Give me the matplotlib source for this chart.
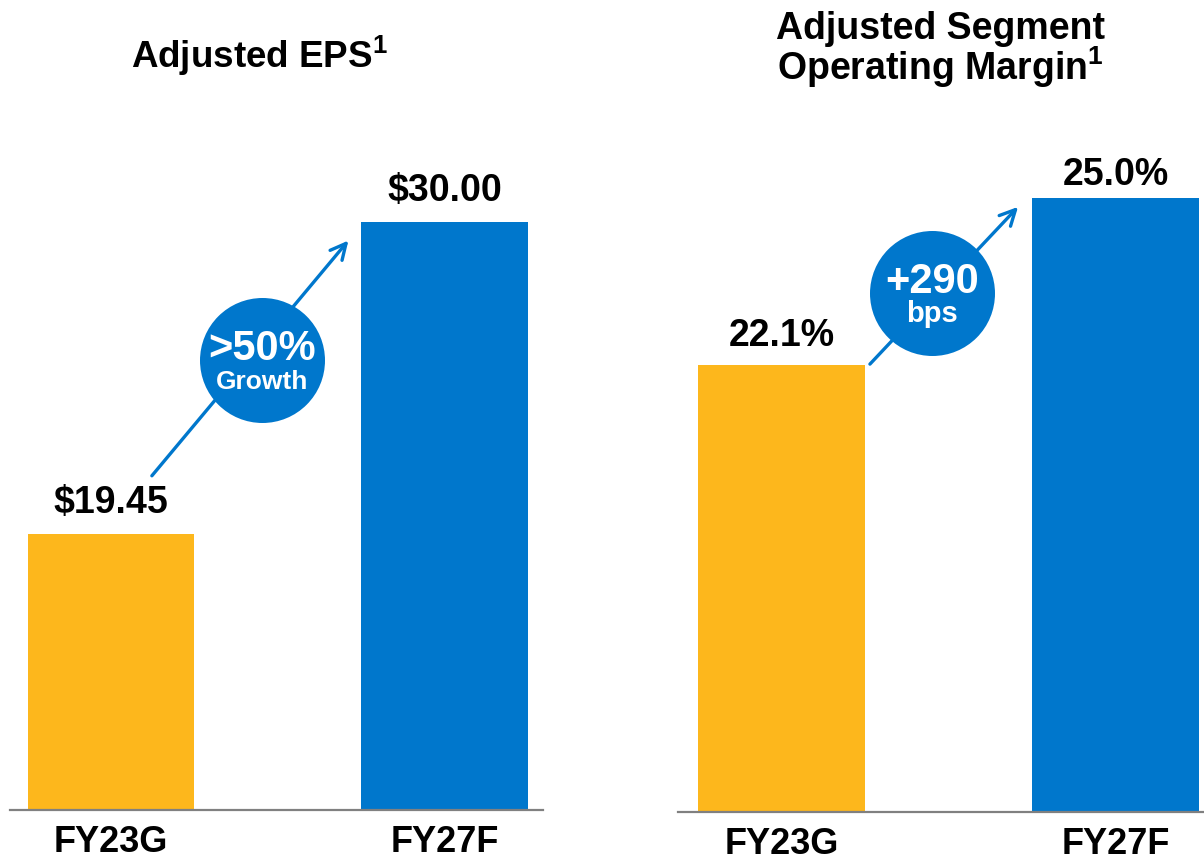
import matplotlib
matplotlib.use("Agg")
import matplotlib.pyplot as plt

plt.rcParams['font.family'] = ['Liberation Sans', 'DejaVu Sans']
plt.rcParams['font.weight'] = 'bold'
plt.rcParams['mathtext.fontset'] = 'custom'
plt.rcParams['mathtext.bf'] = 'Liberation Sans:bold'
plt.rcParams['mathtext.rm'] = 'Liberation Sans:bold'

# data
periods = ["FY23G", "FY27F"]
eps_values = [19.45, 30.00]
eps_labels = ["$19.45", "$30.00"]
margin_values = [22.1, 25.0]
margin_labels = ["22.1%", "25.0%"]
eps_badge = (">50%", "Growth")
margin_badge = ("+290", "bps")

ORANGE = "#FDB71C"
BLUE = "#0077CC"
GREY = "#808080"

W, H = 1204, 861
fig = plt.figure(figsize=(W / 100, H / 100), dpi=100)


def px_axes(left, right, bottom, top):
    return fig.add_axes([left / W, 1 - bottom / H, (right - left) / W, (bottom - top) / H])


def style_axes(ax):
    for s in ["left", "right", "top"]:
        ax.spines[s].set_visible(False)
    ax.spines["bottom"].set_color(GREY)
    ax.spines["bottom"].set_linewidth(1.6)
    ax.set_yticks([])
    ax.tick_params(axis="x", length=0, pad=11, labelsize=26)
    for lbl in ax.get_xticklabels():
        lbl.set_fontweight("bold")


def badge(ax, x, y, top_text, bottom_text, size1, size2):
    ax.scatter([x], [y], s=8100, color=BLUE, zorder=4, linewidths=0)
    ax.text(x, y, top_text, color="white", fontsize=size1, fontweight="bold",
            ha="center", va="baseline", zorder=5)
    ax.annotate(bottom_text, (x, y), xytext=(0, -21), textcoords="offset points",
                color="white", fontsize=size2, fontweight="bold",
                ha="center", va="baseline", zorder=5)


# left panel: adjusted EPS
ax1 = px_axes(10, 543, 810, 100)
x = [0, 1]
ax1.bar(x, eps_values, width=0.5, color=[ORANGE, BLUE], zorder=2)
ax1.set_xlim(-0.303, 1.295)
ax1.set_ylim(10.12, 34.13)
ax1.set_xticks(x)
ax1.set_xticklabels(periods)
style_axes(ax1)
for xi, v, lab in zip(x, eps_values, eps_labels):
    ax1.annotate(lab, (xi, v), xytext=(0, 15), textcoords="offset points",
                 ha="center", va="baseline", fontsize=27, fontweight="bold")
ax1.annotate("", xy=(0.717, eps_values[1] - 0.55), xytext=(0.117, eps_values[0] + 1.9),
             arrowprops=dict(arrowstyle="->", color=BLUE, lw=2.4,
                             mutation_scale=28), zorder=3)
badge(ax1, 0.453, 25.35, eps_badge[0], eps_badge[1], 30, 19)

# right panel: adjusted segment operating margin
ax2 = px_axes(678, 1204, 812, 100)
ax2.bar(x, margin_values, width=0.5, color=[ORANGE, BLUE], zorder=2)
ax2.set_xlim(-0.31, 1.265)
ax2.set_ylim(14.34, 26.70)
ax2.set_xticks(x)
ax2.set_xticklabels(periods)
style_axes(ax2)
for xi, v, lab, off in zip(x, margin_values, margin_labels, [14, 9]):
    ax2.annotate(lab, (xi, v), xytext=(0, off), textcoords="offset points",
                 ha="center", va="baseline", fontsize=27, fontweight="bold")
ax2.annotate("", xy=(0.714, margin_values[1] - 0.12), xytext=(0.259, margin_values[0] - 0.02),
             arrowprops=dict(arrowstyle="->", color=BLUE, lw=2.4,
                             mutation_scale=28), zorder=3)
badge(ax2, 0.451, 23.35, margin_badge[0], margin_badge[1], 30, 21)

# titles
fig.text(259 / W, 1 - 68 / H, r"Adjusted EPS$^{\mathbf{1}}$", ha="center", va="baseline",
         fontsize=26.5, fontweight="bold")
fig.text(940 / W, 1 - 39 / H, "Adjusted Segment", ha="center", va="baseline",
         fontsize=27, fontweight="bold")
fig.text(940 / W, 1 - 80 / H, r"Operating Margin$^{\mathbf{1}}$", ha="center", va="baseline",
         fontsize=27, fontweight="bold")

fig.savefig("out.png", dpi=100)
